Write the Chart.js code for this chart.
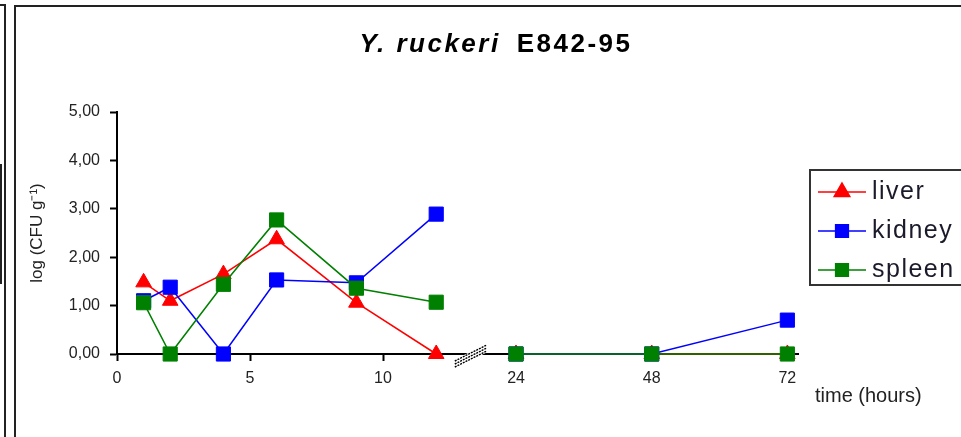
<!DOCTYPE html>
<html>
<head>
<meta charset="utf-8">
<script src="https://cdn.jsdelivr.net/npm/chart.js@4.4.1/dist/chart.umd.min.js"></script>
<style>
  html, body { margin: 0; padding: 0; background: #fff; }
  #wrap { position: relative; width: 961px; height: 437px; }
</style>
</head>
<body>
<div id="wrap"><canvas id="chart" width="961" height="437"></canvas></div>
<script>
// Datos (log CFU g-1)
const hours = [1, 2, 4, 6, 9, 12, 24, 48, 72];
const liver = [1.48, 1.10, 1.65, 2.37, 1.06, 0, 0, 0, 0];
const kidney = [1.10, 1.38, 0, 1.53, 1.47, 2.89, 0, 0, 0.70];
const spleen = [1.06, 0, 1.44, 2.77, 1.36, 1.07, 0, 0, 0];

const xTickHours = [0, 5, 10, 24, 48, 72];
const yTickValues = [0, 1, 2, 3, 4, 5];

const FONT = '"Liberation Sans", Arial, sans-serif';

// Eje con corte: 0-12 h lineal, después 24/48/72 comprimidos
function axisPos(h) {
    return h <= 12 ? h : 15 + (h - 24) * 5.1 / 24;
}

function toPoints(values) {
    return values.map((v, i) => ({ x: axisPos(hours[i]), y: v }));
}

// No dibujar el tramo que cruza el corte del eje
const skipBreak = ctx =>
    (ctx.p0.parsed.x < 13 && ctx.p1.parsed.x > 13) ? 'rgba(0,0,0,0)' : undefined;

const series = [
    { label: 'liver', data: liver, color: '#ff0000', style: 'triangle', radius: 9, legendRadius: 9, order: 2 },
    { label: 'kidney', data: kidney, color: '#0000ff', style: 'rect', radius: 10, legendRadius: 9, order: 1 },
    { label: 'spleen', data: spleen, color: '#008000', style: 'rect', radius: 10, legendRadius: 9, order: 0 }
];

const decor = {
    id: 'decor',
    beforeDraw(chart) {
        const ctx = chart.ctx;
        ctx.save();
        ctx.fillStyle = '#fff';
        ctx.fillRect(0, 0, chart.width, chart.height);
        ctx.strokeStyle = '#222';
        ctx.lineWidth = 2;
        // marcos de la captura
        ctx.beginPath();
        ctx.moveTo(0, 5); ctx.lineTo(5, 5); ctx.lineTo(5, chart.height);
        ctx.moveTo(15, chart.height); ctx.lineTo(15, 6); ctx.lineTo(chart.width, 6);
        ctx.moveTo(0, 165); ctx.lineTo(1, 165); ctx.lineTo(1, 283); ctx.lineTo(0, 283);
        ctx.stroke();
        ctx.restore();
    },
    afterDraw(chart) {
        const ctx = chart.ctx;
        const xs = chart.scales.x;
        const ys = chart.scales.y;
        ctx.save();

        // Título: parte en cursiva + parte en negrita
        ctx.fillStyle = '#000';
        ctx.textBaseline = 'alphabetic';
        ctx.letterSpacing = '2.5px';
        const t1 = 'Y. ruckeri';
        const t2 = 'E842-95';
        ctx.font = 'italic bold 26px ' + FONT;
        const w1 = ctx.measureText(t1).width;
        ctx.font = 'bold 26px ' + FONT;
        const w2 = ctx.measureText(t2).width;
        const gap = 16;
        let tx = 496 - (w1 + gap + w2) / 2;
        ctx.font = 'italic bold 26px ' + FONT;
        ctx.fillText(t1, tx, 52);
        ctx.font = 'bold 26px ' + FONT;
        ctx.fillText(t2, tx + w1 + gap, 52);
        ctx.letterSpacing = '0px';

        // Marcas de corte del eje X
        const bx = xs.getPixelForValue(13.3);
        const by = ys.getPixelForValue(0) + 2;
        ctx.strokeStyle = '#fff';
        ctx.lineWidth = 8;
        ctx.beginPath();
        ctx.moveTo(bx - 16, by + 8); ctx.lineTo(bx + 16, by - 8);
        ctx.stroke();
        ctx.strokeStyle = '#000';
        ctx.lineWidth = 1.4;
        ctx.setLineDash([2, 1]);
        [-3, 0, 3].forEach(o => {
            ctx.beginPath();
            ctx.moveTo(bx - 16, by + 8 + o); ctx.lineTo(bx + 16, by - 8 + o);
            ctx.stroke();
        });
        ctx.setLineDash([]);

        // Título del eje X
        ctx.fillStyle = '#222';
        ctx.font = '20px ' + FONT;
        ctx.textAlign = 'left';
        ctx.textBaseline = 'middle';
        ctx.fillText('time (hours)', 815, 396);

        // Leyenda (recortada a la derecha como en el original)
        const lx = 810, ly = 170;
        ctx.fillStyle = '#fff';
        ctx.fillRect(lx, ly, 200, 115);
        ctx.strokeStyle = '#333';
        ctx.lineWidth = 2;
        ctx.strokeRect(lx, ly, 200, 115);
        series.forEach((s, i) => {
            const y = 192 + i * 39;
            ctx.strokeStyle = s.color;
            ctx.lineWidth = 1.5;
            ctx.beginPath();
            ctx.moveTo(818, y); ctx.lineTo(866, y);
            ctx.stroke();
            ctx.fillStyle = s.color;
            Chart.helpers.drawPoint(ctx, { pointStyle: s.style, radius: s.legendRadius, rotation: 0, borderWidth: 1 }, 842, y);
            ctx.fillStyle = '#1a1a2a';
            ctx.font = '25px ' + FONT;
            ctx.letterSpacing = '1.5px';
            ctx.textBaseline = 'middle';
            ctx.fillText(s.label, 872, y);
            ctx.letterSpacing = '0px';
        });
        ctx.restore();
    }
};

new Chart(document.getElementById('chart'), {
    type: 'line',
    data: {
        datasets: series.map(s => ({
            label: s.label,
            data: toPoints(s.data),
            borderColor: s.color,
            backgroundColor: s.color,
            borderWidth: 1.5,
            pointStyle: s.style,
            pointRadius: s.radius,
            pointBorderWidth: 1,
            pointBackgroundColor: s.color,
            pointBorderColor: s.color,
            tension: 0,
            clip: false,
            order: s.order,
            segment: { borderColor: skipBreak }
        }))
    },
    options: {
        responsive: false,
        animation: false,
        events: [],
        layout: { padding: { top: 112, right: 163, left: 0, bottom: 0 } },
        plugins: {
            legend: { display: false },
            tooltip: { enabled: false },
            title: { display: false }
        },
        scales: {
            x: {
                type: 'linear',
                min: 0,
                max: 25.6,
                afterBuildTicks: scale => {
                    scale.ticks = xTickHours.map(h => ({ value: axisPos(h) }));
                },
                afterFit: scale => { scale.height = 83; },
                ticks: {
                    autoSkip: false,
                    maxRotation: 0,
                    padding: 8,
                    color: '#222',
                    font: { family: FONT, size: 16 },
                    callback: (v, i) => String(xTickHours[i])
                },
                grid: {
                    drawOnChartArea: false,
                    drawTicks: true,
                    tickLength: 7,
                    tickWidth: 2,
                    tickColor: ctx => ctx.index < 3 ? '#000' : 'rgba(0,0,0,0)'
                },
                border: { display: true, color: '#000', width: 2 }
            },
            y: {
                min: 0,
                max: 5,
                afterBuildTicks: scale => {
                    scale.ticks = yTickValues.map(v => ({ value: v }));
                },
                afterFit: scale => { scale.width = 117; },
                ticks: {
                    padding: 10,
                    color: '#222',
                    font: { family: FONT, size: 16 },
                    callback: v => v.toFixed(2).replace('.', ',')
                },
                grid: {
                    drawOnChartArea: false,
                    drawTicks: true,
                    tickLength: 7,
                    tickWidth: 2,
                    tickColor: '#000'
                },
                border: { display: true, color: '#000', width: 2 },
                title: {
                    display: true,
                    text: 'log (CFU g⁻¹)',
                    color: '#222',
                    font: { family: FONT, size: 17 },
                    padding: { top: 27, bottom: 0 }
                }
            }
        }
    },
    plugins: [decor]
});
</script>
</body>
</html>
